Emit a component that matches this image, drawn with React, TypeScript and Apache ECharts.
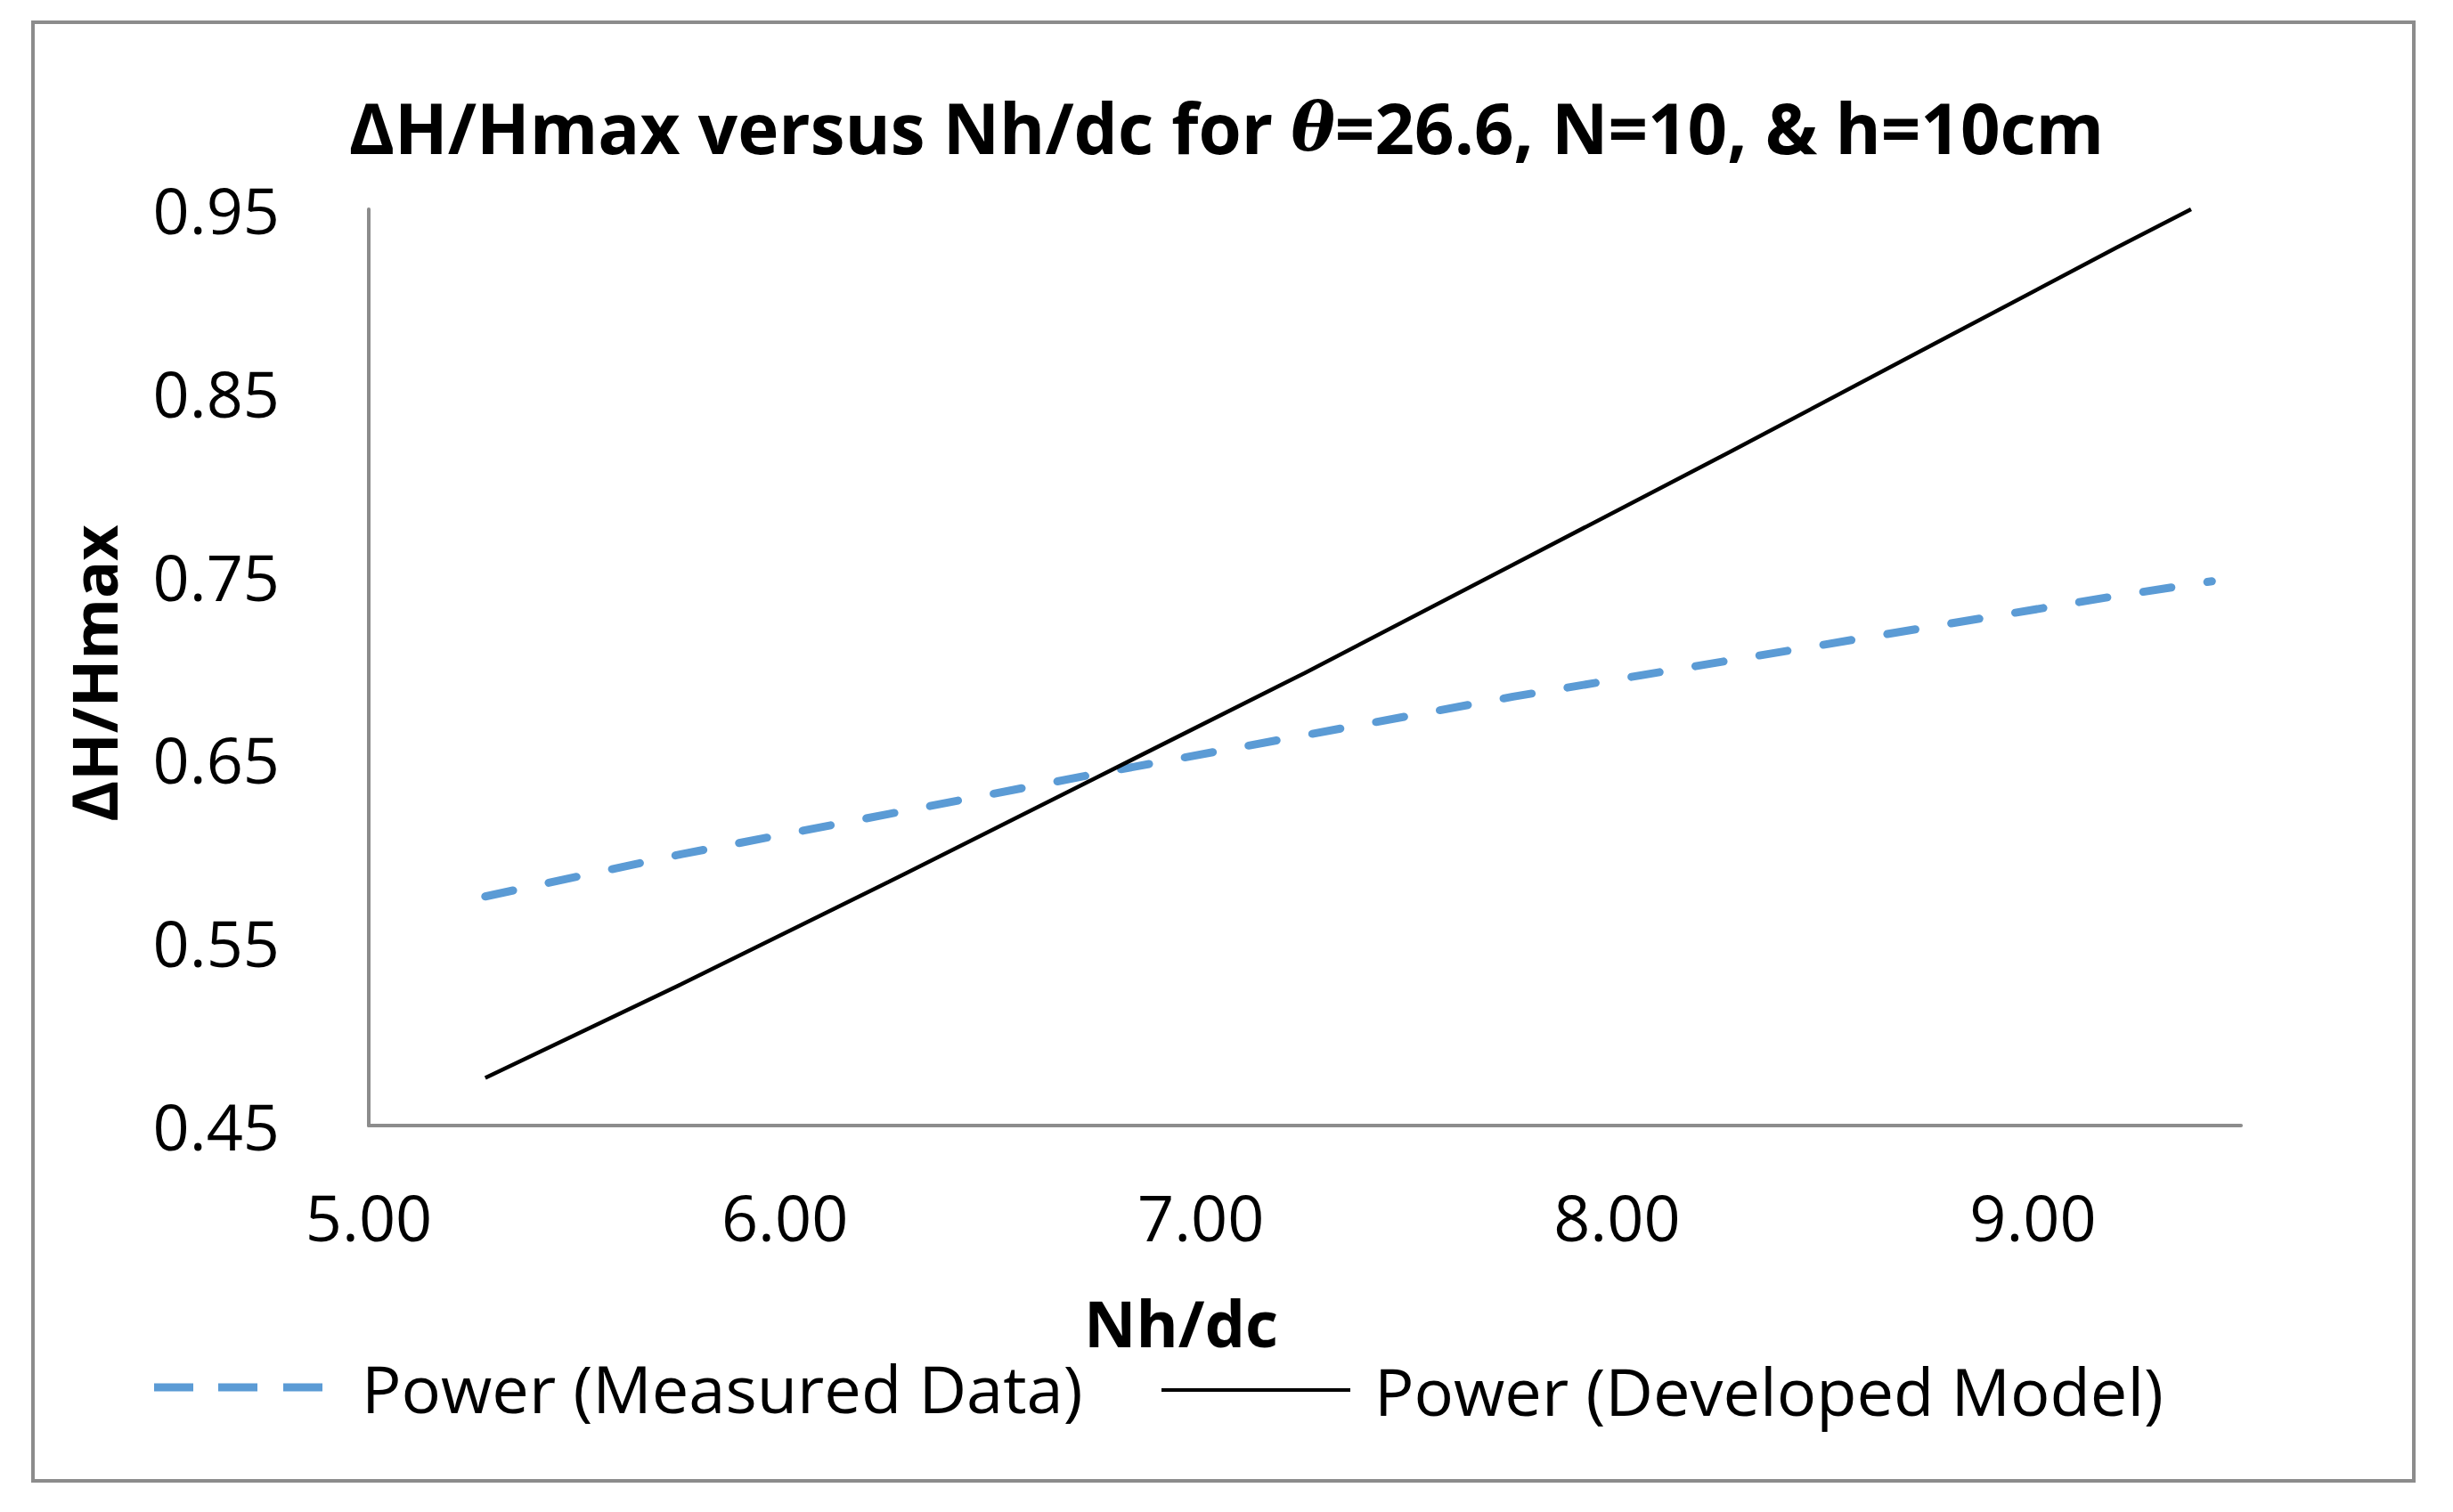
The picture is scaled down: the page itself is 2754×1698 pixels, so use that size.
import React, { useEffect, useRef } from "react";
import * as echarts from "echarts";

const titleParts = ["ΔH/Hmax versus Nh/dc for ", "θ", "=26.6, N=10, & h=10cm"];
const xAxisTitle = "Nh/dc";
const yAxisTitle = "ΔH/Hmax";
const seriesNames = ["Power (Measured Data)", "Power (Developed Model)"];

// values
const measuredX = [5.28, 5.75, 6.25, 6.75, 7.25, 7.75, 8.25, 8.75, 9.2, 9.43];
const measuredY = [0.575, 0.598, 0.62, 0.642, 0.663, 0.684, 0.703, 0.722, 0.739, 0.747];
const modelX = [5.28, 5.75, 6.25, 6.75, 7.25, 7.75, 8.25, 8.75, 9.2, 9.38];
const modelY = [0.476, 0.527, 0.583, 0.64, 0.697, 0.756, 0.815, 0.875, 0.929, 0.95];

const xMin = 5;
const xMax = 9.5;
const yMin = 0.45;
const yMax = 0.95;

const FONT = "'Open Sans', sans-serif";
const BLUE = "#5B9BD5";
const GRAY = "#8c8c8c";

// legend icon: three dashes (189 x 9)
function dashIcon(): string {
  const h = 9;
  const segs = [
    [0, 44],
    [72, 116],
    [145, 189],
  ];
  return "path://" + segs.map(([a, b]) => `M${a},0 L${b},0 L${b},${h} L${a},${h} Z`).join(" ");
}

export default function App() {
  const ref = useRef<HTMLDivElement>(null);
  useEffect(() => {
    if (!ref.current) return;
    const chart = echarts.init(ref.current, null, { renderer: "svg" });
    const pairs = (xs: number[], ys: number[]) => xs.map((x, i) => [x, ys[i]]);
    const option: any = {
      animation: false,
      backgroundColor: "#ffffff",
      title: {
        text: `{a|${titleParts[0]}}{t|${titleParts[1]}}{a|${titleParts[2]}}`,
        left: "center",
        top: 99,
        textStyle: {
          rich: {
            a: { fontFamily: FONT, fontWeight: "bold", fontSize: 78, color: "#000" },
            t: { fontFamily: "'DejaVu Serif', serif", fontStyle: "italic", fontWeight: "bold", fontSize: 74, color: "#000" },
          },
        },
      },
      grid: { left: 414, right: 238, top: 235, bottom: 434, containLabel: false },
      xAxis: {
        type: "value",
        min: xMin,
        max: xMax,
        interval: 0.5,
        axisLine: { show: true, onZero: false, lineStyle: { color: GRAY, width: 4 } },
        axisTick: { show: false },
        splitLine: { show: false },
        axisLabel: {
          fontFamily: FONT,
          fontSize: 72,
          color: "#000",
          margin: 66,
          formatter: (v: number) => (Math.abs(v - Math.round(v)) < 1e-6 ? v.toFixed(2) : ""),
        },
      },
      yAxis: {
        type: "value",
        min: yMin,
        max: yMax,
        interval: 0.05,
        axisLine: { show: true, onZero: false, lineStyle: { color: GRAY, width: 4 } },
        axisTick: { show: false },
        splitLine: { show: false },
        axisLabel: {
          fontFamily: FONT,
          fontSize: 72,
          color: "#000",
          margin: 100,
          formatter: (v: number) => (Math.round(v * 100) % 10 === 5 ? v.toFixed(2) : ""),
        },
      },
      legend: [
        {
          data: [{ name: seriesNames[0], icon: dashIcon() }],
          left: 168,
          top: 1516,
          itemWidth: 189,
          itemHeight: 9,
          itemStyle: { color: BLUE, borderWidth: 0, borderColor: "rgba(0,0,0,0)" },
          textStyle: { fontFamily: FONT, fontSize: 74, color: "#000", padding: [0, 0, 0, 39] },
        },
        {
          data: [seriesNames[1]],
          left: 1297,
          top: 1519,
          itemWidth: 212,
          itemHeight: 20,
          itemStyle: { opacity: 0, color: "rgba(0,0,0,0)", borderWidth: 0 },
          textStyle: { fontFamily: FONT, fontSize: 74, color: "#000", padding: [0, 0, 0, 22] },
          lineStyle: { color: "#000", width: 4 },
        },
      ],
      series: [
        {
          name: seriesNames[0],
          type: "line",
          data: pairs(measuredX, measuredY),
          symbol: "none",
          showSymbol: false,
          lineStyle: { color: BLUE, width: 9, type: [32, 40.8], cap: "round" },
          itemStyle: { color: BLUE },
        },
        {
          name: seriesNames[1],
          type: "line",
          data: pairs(modelX, modelY),
          symbol: "none",
          showSymbol: false,
          lineStyle: { color: "#000", width: 4.5 },
          itemStyle: { color: "#000" },
        },
      ],
      graphic: [
        {
          type: "rect",
          shape: { x: 37, y: 25, width: 2673, height: 1638 },
          style: { fill: "none", stroke: GRAY, lineWidth: 4 },
          silent: true,
        },
        {
          type: "text",
          x: 1326,
          y: 1485,
          style: {
            text: xAxisTitle,
            fontFamily: FONT,
            fontWeight: "bold",
            fontSize: 72,
            fill: "#000",
            align: "center",
            verticalAlign: "middle",
          },
        },
        {
          type: "text",
          x: 105,
          y: 756,
          rotation: Math.PI / 2,
          style: {
            text: yAxisTitle,
            fontFamily: FONT,
            fontWeight: "bold",
            fontSize: 70,
            fill: "#000",
            align: "center",
            verticalAlign: "middle",
          },
        },
      ],
    };
    chart.setOption(option);
    return () => chart.dispose();
  }, []);
  return (
    <div
      ref={ref}
      style={{ position: "absolute", left: 0, top: 0, width: 2754, height: 1698 }}
    />
  );
}
